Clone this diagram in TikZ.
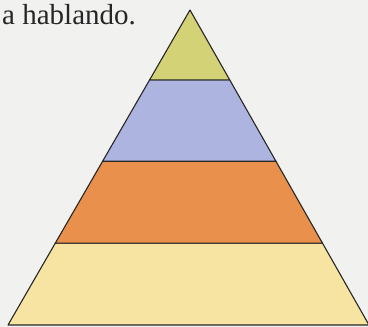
\documentclass[tikz,border=0pt]{standalone}
\usepackage{fontspec}
\setmainfont{Liberation Serif}
\usepackage{xcolor}
\usetikzlibrary{calc}

\definecolor{paper}{RGB}{241,241,240}
\definecolor{layerA}{RGB}{212,210,118}
\definecolor{layerB}{RGB}{174,180,224}
\definecolor{layerC}{RGB}{232,144,76}
\definecolor{layerD}{RGB}{248,228,162}

\begin{document}
\begin{tikzpicture}[x=1pt, y=-1pt,
    layer/.style={draw=black!85, line width=1.1pt, line join=round},
    caption/.style={font=\fontsize{29}{29}\selectfont, text=black!85, inner sep=0pt}
]
    \useasboundingbox (0,0) rectangle (368,327);
    \clip (0,0) rectangle (368,327);
    \fill[paper] (0,0) rectangle (368,327);

    \node[caption, anchor=base west] (txt) at (2,24) {a hablando.};

    % corners of the pyramid
    \coordinate (top) at (190,10);
    \coordinate (bl) at (8,325);
    \coordinate (br) at (369,325);

    % layers, bottom to top
    \draw[layer, fill=layerD] ($(top)!0.74!(bl)$) -- (bl) -- (br) -- ($(top)!0.74!(br)$) -- cycle;
    \draw[layer, fill=layerC] ($(top)!0.48!(bl)$) -- ($(top)!0.74!(bl)$) -- ($(top)!0.74!(br)$) -- ($(top)!0.48!(br)$) -- cycle;
    \draw[layer, fill=layerB] ($(top)!0.222!(bl)$) -- ($(top)!0.48!(bl)$) -- ($(top)!0.48!(br)$) -- ($(top)!0.222!(br)$) -- cycle;
    \draw[layer, fill=layerA] (top) -- ($(top)!0.222!(bl)$) -- ($(top)!0.222!(br)$) -- cycle;
\end{tikzpicture}
\end{document}
